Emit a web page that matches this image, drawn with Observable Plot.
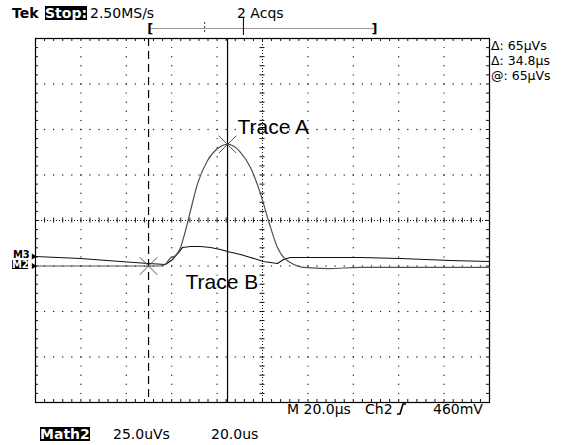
<!DOCTYPE html>
<html><head><meta charset="utf-8">
<script src="https://cdn.jsdelivr.net/npm/d3@7"></script>
<script src="https://cdn.jsdelivr.net/npm/@observablehq/plot@0.6"></script>
<style>
body{margin:0;background:#fff;}
#wrap{position:relative;width:572px;height:445px;overflow:hidden;font-family:"DejaVu Sans",sans-serif;background:#fff;}
#wrap svg{position:absolute;left:0;top:0;}
.t{position:absolute;font-size:14px;line-height:14px;white-space:pre;color:#000;}
.b{font-weight:bold;}
.inv{background:#000;color:#fff;font-weight:bold;}
.sm{font-size:10px;line-height:9px;letter-spacing:-0.3px;}
.rd{font-size:12.5px;line-height:12px;}
</style></head><body><div id="wrap"></div>
<script>
// ---- data (time in µs, value in µVs, relative to M2 baseline) ----
const traceATime = [-100,-44.9,-42.7,-40.5,-38.3,-36.1,-33.9,-31.7,-28.6,-24.2,-19.8,-17.6,-15.4,-13.2,-9.7,-5.3,-0.9,2.6,6.6,9.3,12.3,18.1,28.6,43.2,100];
const traceAVal  = [0,0,1.1,4.4,5.8,10.2,19.5,30.5,45.3,58.0,64.6,66.2,66.8,66.2,62.4,54.1,39.8,25.0,10.2,4.7,1.9,-0.8,-1.4,-0.8,-0.8];
const traceBTime = [-100,-80.2,-62.6,-50.2,-42.7,-39.6,-37.0,-35.2,-31.7,-27.3,-22.9,-18.5,-15.4,-9.7,-5.3,0.4,6.6,9.3,12.3,16.7,43.2,60.8,82.8,100];
const traceBVal  = [5.2,4.1,2.5,1.4,0.8,3.6,7.4,10.2,10.7,10.7,10.2,9.1,8.0,6.3,4.7,2.5,1.4,3.6,4.7,4.7,4.7,4.1,3.0,2.5];
const cursorTimes = [-50.2, -15.4];          // dashed, solid (Δ 34.8 µs)
const cursorMarks = [{t:-50.2, v:0}, {t:-15.4, v:66.8}];
const traceLabels = [{t:-11.0, v:72.8, label:"Trace A"}, {t:-33.9, v:-12.4, label:"Trace B"}];
const refLevels = [{v:5.2, name:"M3"}, {v:0, name:"M2"}];
const recordWindow = [-49.5, 49.3];
const recordTicks = [{t:-25.5, y1:128.3, y2:134.3, dash:"2,2"}, {t:-8.4, y1:126.6, y2:136, dash:null}];
const bracketY = 130.5;

// ---- graticule ----
const xDomain = [-100, 100], yDomain = [-75, 125];
const xCenter = 0, yCenter = 25;
const xMajor = d3.range(-100, 100.01, 20);
const yMajor = d3.range(-75, 125.01, 25);
const xMinor = d3.range(-100, 100.01, 4);
const yMinor = d3.range(-75, 125.01, 5);
const gridPts = [];
for (const x of xMajor) if (x > -100 && x < 100 && x !== xCenter) for (const y of yMinor) if (y > -75 && y < 125) gridPts.push({x, y});
for (const y of yMajor) if (y > -75 && y < 125 && y !== yCenter) for (const x of xMinor) if (x > -100 && x < 100) gridPts.push({x, y});
const pxX = 200/454, pxY = 200/364;   // data units per pixel

const A = traceATime.map((t,i)=>({t, v:traceAVal[i]}));
const B = traceBTime.map((t,i)=>({t, v:traceBVal[i]}));

const chart = Plot.plot({
  width: 572, height: 445,
  marginLeft: 35, marginRight: 83, marginTop: 38, marginBottom: 43,
  x: {domain: xDomain, axis: null},
  y: {domain: yDomain, axis: null},
  style: {background: "transparent"},
  marks: [
    Plot.dot(gridPts, {x:"x", y:"y", r:0.7, fill:"#222", stroke:"none"}),
    Plot.ruleY([yCenter], {stroke:"#111", strokeDasharray:"1,2"}),
    Plot.ruleX([xCenter], {stroke:"#111", strokeDasharray:"1,2"}),
    Plot.ruleX(xMinor, {x:d=>d, y1:yCenter-2.5*pxY, y2:yCenter+2.5*pxY, stroke:"#111"}),
    Plot.ruleY(yMinor, {y:d=>d, x1:xCenter-2.5*pxX, x2:xCenter+2.5*pxX, stroke:"#111"}),
    Plot.ruleX(xMinor, {x:d=>d, y1:125, y2:125-3*pxY, stroke:"#111"}),
    Plot.ruleX(xMinor, {x:d=>d, y1:-75, y2:-75+3*pxY, stroke:"#111"}),
    Plot.ruleY(yMinor, {y:d=>d, x1:-100, x2:-100+3*pxX, stroke:"#111"}),
    Plot.ruleY(yMinor, {y:d=>d, x1:100, x2:100-3*pxX, stroke:"#111"}),
    Plot.frame({stroke:"#000", strokeWidth:1.2}),
    Plot.ruleX([cursorTimes[0]], {stroke:"#000", strokeDasharray:"8,5", strokeWidth:1.2}),
    Plot.ruleX([cursorTimes[1]], {stroke:"#000", strokeWidth:1.2}),
    Plot.line(B, {x:"t", y:"v", stroke:"#111", strokeWidth:1.1}),
    Plot.line(A, {x:"t", y:"v", stroke:"#505050", strokeWidth:1.2, curve:"monotone-x"}),
    Plot.dot(cursorMarks, {x:"t", y:"v", symbol:"times", r:8, stroke:"#555", strokeWidth:1}),
    Plot.dot(refLevels, {x:()=>-100, y:"v", symbol:"triangle", rotate:90, r:2.2, fill:"#000", stroke:"none", dx:-2}),
    Plot.text(traceLabels, {x:"t", y:"v", text:"label", textAnchor:"start", lineAnchor:"bottom", fontSize:21, fontFamily:"Liberation Sans, Arial, sans-serif", fill:"#000"}),
    // record-window bracket above the graticule
    Plot.ruleY([bracketY], {x1:recordWindow[0], x2:recordWindow[1], stroke:"#333", strokeDasharray:"1,1"}),
    Plot.text([{t:recordWindow[0], s:"["}, {t:recordWindow[1], s:"]"}], {x:"t", y:()=>bracketY, text:"s", fontSize:13, fontWeight:"bold", fontFamily:"DejaVu Sans", fill:"#000"}),
    Plot.ruleX(recordTicks.filter(d=>d.dash), {x:"t", y1:"y1", y2:"y2", stroke:"#333", strokeDasharray:"2,2"}),
    Plot.ruleX(recordTicks.filter(d=>!d.dash), {x:"t", y1:"y1", y2:"y2", stroke:"#000"})
  ]
});
const wrap = document.getElementById("wrap");
wrap.appendChild(chart);

const labels = [
  {x:12, y:6, html:"Tek", cls:"b"},
  {x:45, y:6, html:"Stop:", cls:"inv"},
  {x:90, y:6, html:"2.50MS/s", cls:""},
  {x:237, y:6, html:"2 Acqs", cls:""},
  {x:491, y:40, html:"Δ: 65μVs", cls:"rd"},
  {x:491, y:55, html:"Δ: 34.8μs", cls:"rd"},
  {x:491, y:70, html:"@: 65μVs", cls:"rd"},
  {x:287, y:402, html:"M 20.0μs", cls:""},
  {x:365, y:402, html:"Ch2", cls:""},
  {x:433, y:402, html:"460mV", cls:""},
  {x:40, y:427, html:"Math2", cls:"inv"},
  {x:113, y:427, html:"25.0uVs", cls:""},
  {x:211, y:427, html:"20.0us", cls:""},
  {x:13, y:250, html:"M3", cls:"b sm"},
  {x:12, y:260, html:"M2", cls:"inv sm"}
];
for (const l of labels) {
  const d = document.createElement("div");
  d.className = "t " + l.cls;
  d.style.left = l.x + "px"; d.style.top = l.y + "px";
  d.textContent = l.html;
  wrap.appendChild(d);
}
// trigger slope icon
const trig = document.createElementNS("http://www.w3.org/2000/svg","svg");
trig.setAttribute("width","12"); trig.setAttribute("height","14");
trig.style.position="absolute"; trig.style.left="396px"; trig.style.top="402px";
trig.innerHTML = '<path d="M1 12 H4 L7 2 H10" fill="none" stroke="#000" stroke-width="1.6"/>';
wrap.appendChild(trig);
</script></body></html>
